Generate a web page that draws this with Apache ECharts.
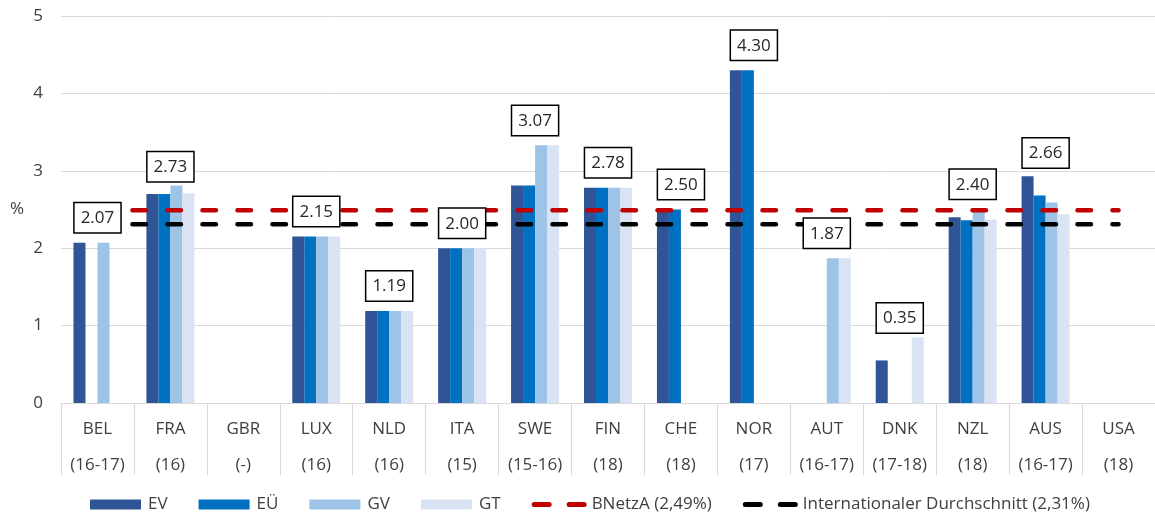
<!DOCTYPE html>
<html>
<head>
<meta charset="utf-8">
<script src="https://cdn.jsdelivr.net/npm/echarts@6/dist/echarts.min.js"></script>
<style>
  html, body { margin: 0; padding: 0; background: #fff; }
  #chart { width: 1155px; height: 515px; }
</style>
</head>
<body>
<div id="chart"></div>
<script>
// Country codes and the years each figure refers to
const countries = ['BEL', 'FRA', 'GBR', 'LUX', 'NLD', 'ITA', 'SWE', 'FIN', 'CHE', 'NOR', 'AUT', 'DNK', 'NZL', 'AUS', 'USA'];
const periods   = ['(16-17)', '(16)', '(-)', '(16)', '(16)', '(15)', '(15-16)', '(18)', '(18)', '(17)', '(16-17)', '(17-18)', '(18)', '(16-17)', '(18)'];

// Rates in % per component (null = not available)
const ev = [2.07, 2.70, null, 2.15, 1.19, 2.00, 2.81, 2.78, 2.50, 4.30, null, 0.55, 2.40, 2.93, null];
const eu = [null, 2.70, null, 2.15, 1.19, 2.00, 2.81, 2.78, 2.50, 4.30, null, 0,    2.36, 2.68, null];
const gv = [2.07, 2.81, null, 2.15, 1.19, 2.00, 3.33, 2.78, null, null, 1.87, 0,    2.47, 2.59, null];
const gt = [null, 2.71, null, 2.15, 1.19, 2.00, 3.33, 2.78, null, null, 1.87, 0.85, 2.37, 2.44, null];

// Reference rates in %
const bnetzaRate = 2.49;
const intlAverage = 2.31;

// Y axis ticks
const yTicks = [0, 1, 2, 3, 4, 5];

// Per-country average over the reported components
const averages = countries.map((c, i) => {
  const vals = [ev[i], eu[i], gv[i], gt[i]].filter(v => v !== null);
  if (!vals.length) return null;
  return Math.round(vals.reduce((a, b) => a + b, 0) / vals.length * 100) / 100;
});

// Extra lift for boxes that would otherwise sit on taller bars
const labelLift = { SWE: 20, NZL: 8, AUS: 19, DNK: 33 };

const FONT = '"Open Sans", "Noto Sans", sans-serif';
const FS = 17;
const TEXT = '#404040';
const GRID = '#D9D9D9';
// Legend icons: a filled block for bars, two short dashes for the reference lines
const BAR_ICON = 'path://M0,0h51v10h-51z';
const DASH_ICON = 'path://M2.5,0h15a2.5,2.5 0 0 1 0,5h-15a2.5,2.5 0 0 1 0,-5z M37.5,0h15a2.5,2.5 0 0 1 0,5h-15a2.5,2.5 0 0 1 0,-5z';

const barSeries = (name, data, color) => ({
  name, type: 'bar', data,
  barWidth: 12, barGap: '0%',
  itemStyle: { color },
  z: 2
});

const dashLine = (name, value, color) => ({
  name, type: 'line',
  data: countries.map(() => value),
  symbol: 'none',
  lineStyle: { color, width: 4.5, type: [13.5, 21.5], cap: 'round' },
  itemStyle: { color },
  z: 5,
  silent: true
});

const chart = echarts.init(document.getElementById('chart'), null, { renderer: 'canvas' });
chart.setOption({
  animation: false,
  textStyle: { fontFamily: FONT },
  grid: { left: 61, top: 16, width: 1100, height: 387, containLabel: false },
  legend: {
    left: 90, top: 496, padding: 0,
    itemWidth: 55, itemHeight: 10, itemGap: 31,
    textStyle: { fontSize: FS, color: TEXT, fontFamily: FONT },
    data: [
      { name: 'EV', icon: BAR_ICON },
      { name: 'EÜ', icon: BAR_ICON },
      { name: 'GV', icon: BAR_ICON },
      { name: 'GT', icon: BAR_ICON },
      { name: 'BNetzA (2,49%)', icon: DASH_ICON },
      { name: 'Internationaler Durchschnitt (2,31%)', icon: DASH_ICON }
    ]
  },
  xAxis: {
    type: 'category',
    data: countries,
    axisLine: { lineStyle: { color: GRID, width: 1 } },
    axisTick: { show: true, length: 72, interval: 0, lineStyle: { color: GRID } },
    axisLabel: {
      interval: 0, margin: 8, fontSize: FS, lineHeight: 36, color: TEXT, fontFamily: FONT,
      formatter: (v, i) => v + '\n' + periods[i]
    }
  },
  yAxis: {
    type: 'value',
    min: yTicks[0], max: yTicks[yTicks.length - 1], interval: 1,
    name: '%', nameLocation: 'middle', nameRotate: 0, nameGap: 37,
    nameTextStyle: { fontSize: FS, color: TEXT, fontFamily: FONT },
    axisLine: { show: false },
    axisTick: { show: false },
    axisLabel: { fontSize: FS, color: TEXT, margin: 18, fontFamily: FONT },
    splitLine: { lineStyle: { color: GRID, width: 1 } }
  },
  series: [
    barSeries('EV', ev, '#2F5597'),
    barSeries('EÜ', eu, '#0070C0'),
    barSeries('GV', gv, '#9DC3E6'),
    barSeries('GT', gt, '#DAE3F3'),
    dashLine('BNetzA (2,49%)', bnetzaRate, '#C00000'),
    dashLine('Internationaler Durchschnitt (2,31%)', intlAverage, '#000000'),
    {
      name: 'avg', type: 'scatter',
      data: averages.map((v, i) => v === null ? null : {
        value: v,
        label: { offset: [0, -(labelLift[countries[i]] || 0)] }
      }),
      symbolSize: 1,
      itemStyle: { color: 'rgba(0,0,0,0)', opacity: 1 },
      z: 10,
      silent: true,
      label: {
        show: true, position: 'top', distance: 10,
        formatter: p => Number(p.value).toFixed(2),
        fontSize: FS, color: '#262626', fontFamily: FONT,
        backgroundColor: '#fff', borderColor: '#000', borderWidth: 1.5,
        padding: [6, 6, 5, 6], lineHeight: 18
      }
    }
  ]
});
</script>
</body>
</html>
